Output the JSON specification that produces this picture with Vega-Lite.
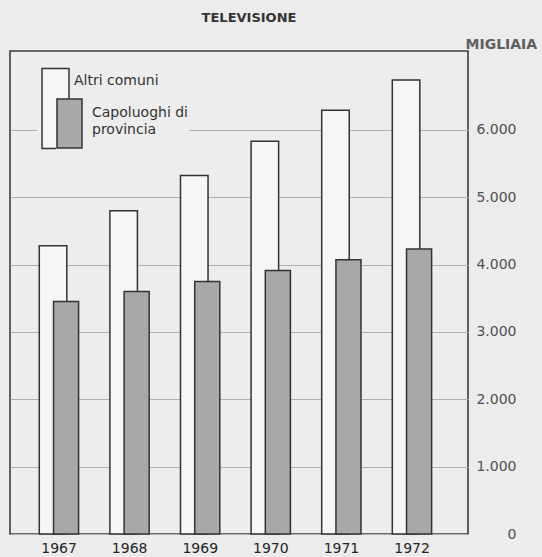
{
  "$schema": "https://vega.github.io/schema/vega-lite/v6.json",
  "width": 458,
  "height": 483,
  "autosize": {"type": "none"},
  "padding": {"left": 10, "top": 51, "right": 74, "bottom": 23},
  "background": "#ececec",
  "title": {
    "text": "TELEVISIONE",
    "font": "DejaVu Sans",
    "fontSize": 13,
    "fontWeight": "bold",
    "color": "#333333",
    "anchor": "middle",
    "dx": 10,
    "offset": 12
  },
  "config": {
    "view": {"stroke": "#3c3c3c", "strokeWidth": 1.6, "fill": "#ededed"}
  },
  "data": {
    "values": [
      {"anno": "1967", "serie": "Altri comuni", "valore": 4280},
      {"anno": "1968", "serie": "Altri comuni", "valore": 4800},
      {"anno": "1969", "serie": "Altri comuni", "valore": 5320},
      {"anno": "1970", "serie": "Altri comuni", "valore": 5830},
      {"anno": "1971", "serie": "Altri comuni", "valore": 6290},
      {"anno": "1972", "serie": "Altri comuni", "valore": 6740},
      {"anno": "1967", "serie": "Capoluoghi di provincia", "valore": 3450},
      {"anno": "1968", "serie": "Capoluoghi di provincia", "valore": 3600},
      {"anno": "1969", "serie": "Capoluoghi di provincia", "valore": 3750},
      {"anno": "1970", "serie": "Capoluoghi di provincia", "valore": 3910},
      {"anno": "1971", "serie": "Capoluoghi di provincia", "valore": 4070},
      {"anno": "1972", "serie": "Capoluoghi di provincia", "valore": 4230}
    ]
  },
  "encoding": {
    "x": {
      "field": "anno",
      "type": "ordinal",
      "scale": {"paddingInner": 0, "paddingOuter": 0.2435, "align": 0.4},
      "axis": {
        "title": null,
        "labelAngle": 0,
        "domain": false,
        "ticks": false,
        "grid": false,
        "labelFont": "DejaVu Sans",
        "labelFontSize": 14,
        "labelColor": "#262626",
        "labelPadding": 7
      }
    },
    "y": {
      "field": "valore",
      "type": "quantitative",
      "scale": {"domain": [0, 7170], "nice": false},
      "axis": {
        "orient": "right",
        "values": [0, 1000, 2000, 3000, 4000, 5000, 6000],
        "labelExpr": "replace(format(datum.value, ','), ',', '.')",
        "domain": false,
        "tickSize": 0,
        "labelPadding": 48,
        "labelAlign": "right",
        "labelFont": "DejaVu Sans",
        "labelFontSize": 14,
        "labelColor": "#505050",
        "grid": true,
        "gridColor": "#b0b0b0",
        "gridWidth": 1,
        "title": "MIGLIAIA",
        "titleAngle": 0,
        "titleFont": "DejaVu Sans",
        "titleFontSize": 14,
        "titleFontWeight": "bold",
        "titleColor": "#606060",
        "titleAlign": "left",
        "titleBaseline": "bottom",
        "titleX": -3,
        "titleY": 0
      }
    }
  },
  "layer": [
    {
      "transform": [{"filter": "datum.serie == 'Altri comuni'"}],
      "mark": {
        "type": "bar",
        "width": {"band": 0.39},
        "xOffset": -6,
        "stroke": "#333333",
        "strokeWidth": 1.5
      },
      "encoding": {
        "fill": {
          "field": "serie",
          "type": "nominal",
          "scale": {"domain": ["Altri comuni"], "range": ["#f6f6f6"]},
          "legend": {
            "orient": "none",
            "legendX": 27,
            "legendY": 11,
            "title": null,
            "padding": 4,
            "fillColor": "#ededed",
            "symbolType": "M-1,-0.889H1V5.04H-1Z",
            "symbolSize": 729,
            "symbolStrokeColor": "#333333",
            "symbolStrokeWidth": 1.5,
            "labelFont": "DejaVu Sans",
            "labelFontSize": 14,
            "labelColor": "#333333",
            "labelOffset": 4
          }
        }
      }
    },
    {
      "transform": [{"filter": "datum.serie == 'Capoluoghi di provincia'"}],
      "mark": {
        "type": "bar",
        "width": {"band": 0.355},
        "xOffset": 7,
        "stroke": "#333333",
        "strokeWidth": 1.5
      },
      "encoding": {
        "fill": {
          "field": "serie",
          "type": "nominal",
          "scale": {"domain": ["Capoluoghi di provincia"], "range": ["#a8a8a8"]},
          "legend": {
            "orient": "none",
            "legendX": 46,
            "legendY": 48.5,
            "title": null,
            "padding": 0,
            "fillColor": "#ededed",
            "symbolType": "M-1,-1.12H1V2.8H-1Z",
            "symbolSize": 625,
            "symbolStrokeColor": "#333333",
            "symbolStrokeWidth": 1.5,
            "labelFont": "DejaVu Sans",
            "labelFontSize": 14,
            "labelColor": "#333333",
            "labelOffset": 9,
            "labelLimit": 300,
            "labelExpr": "['Capoluoghi di', 'provincia']",
            "encode": {
              "labels": {"update": {"lineHeight": {"value": 17}}},
              "legend": {"update": {"width": {"value": 200}}}
            }
          }
        }
      }
    }
  ],
  "resolve": {"scale": {"fill": "independent"}}
}
